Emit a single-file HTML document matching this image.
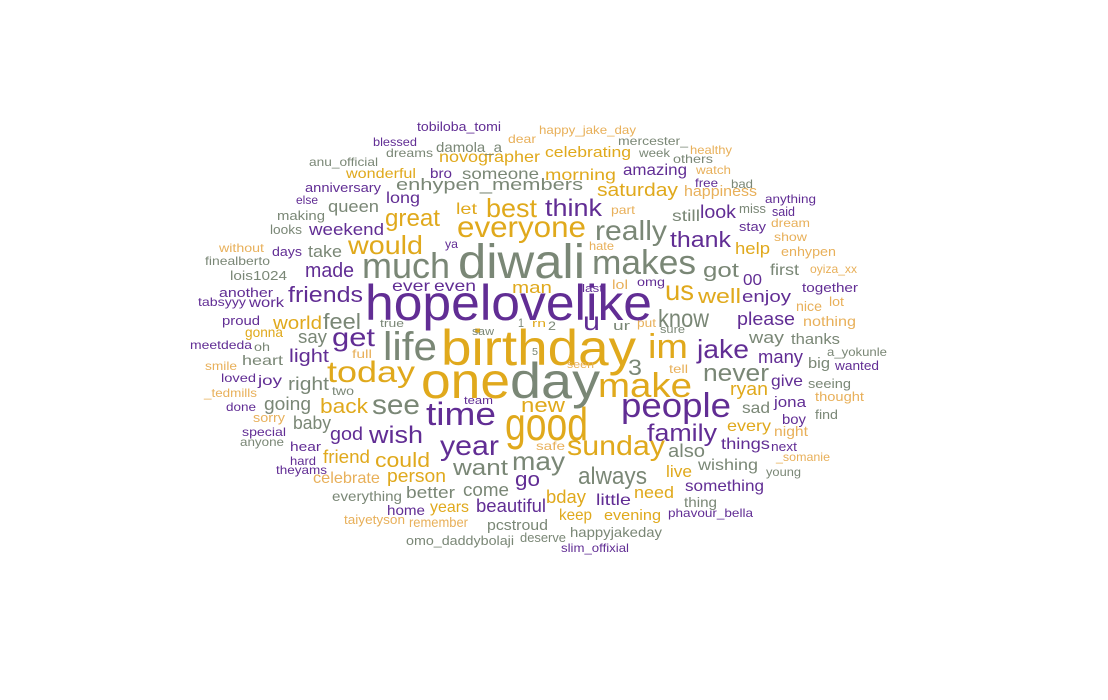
<!DOCTYPE html>
<html><head><meta charset="utf-8"><style>
html,body{margin:0;padding:0;background:#fff;width:1108px;height:700px;overflow:hidden}
svg text{font-family:"Liberation Sans","DejaVu Sans",sans-serif}
</style></head><body>
<svg id="cloud" width="1108" height="700" xmlns="http://www.w3.org/2000/svg"></svg>
<script>
const P="#612d94",G="#e0a91c",Y="#7a8776",L="#e8b05a";
const words=[
["hopelovelike",365,652,320,50,P],["birthday",441,636,365,50,G],["diwali",458,585,278,48,Y],
["good",505,588,440,46,G],["one",421,510,398,50,G],["day",510,600,398,50,Y],
["much",362,450,278,36,Y],["makes",592,696,274,34,Y],["life",383,437,360,40,Y],
["im",648,688,358,34,G],["make",598,692,397,34,G],["people",621,731,417,34,P],
["today",327,415,382,30,G],["time",426,496,425,32,P],["year",440,499,455,28,P],
["sunday",567,665,455,28,G],["everyone",457,586,237,30,G],["really",595,667,240,28,Y],
["best",486,537,217,26,G],["think",545,602,216,24,P],["know",658,709,327,25,Y],
["us",665,694,300,28,G],["u",583,600,330,26,P],["jake",697,749,358,26,P],
["3",628,642,375,22,Y],["never",703,769,381,24,Y],["family",647,717,441,24,P],
["may",512,565,470,26,Y],["new",521,565,412,20,G],["always",578,647,484,24,Y],
["see",372,420,414,28,Y],["wish",369,423,443,24,P],["get",332,375,346,26,P],
["would",348,423,254,26,G],["great",385,440,226,24,G],["made",305,354,277,20,P],
["friends",288,363,302,22,P],["feel",323,361,329,22,Y],["world",273,322,329,18,G],
["say",298,327,343,18,Y],["light",289,329,362,18,P],["right",288,329,390,18,Y],
["back",320,368,413,20,G],["going",264,311,410,18,Y],["baby",293,331,429,18,Y],
["god",330,363,440,18,P],["could",375,430,467,20,G],["friend",323,370,463,18,G],
["person",387,446,482,18,G],["celebrate",313,380,483,16,L],["want",453,508,475,22,Y],
["go",515,540,486,20,P],["come",463,509,496,18,Y],["better",406,455,498,17,Y],
["everything",332,402,501,14,Y],["years",430,469,512,16,G],["beautiful",476,546,512,18,P],
["home",387,425,515,14,P],["bday",546,586,503,18,G],["little",596,631,505,16,P],
["need",634,674,498,17,G],["keep",559,592,520,16,G],["evening",604,661,520,15,G],
["taiyetyson",344,405,524,13,L],["remember",409,468,527,14,L],["pcstroud",487,548,530,15,Y],
["happyjakeday",570,662,537,14,Y],["deserve",520,566,542,13,Y],["omo_daddybolaji",406,514,545,13,Y],
["slim_offixial",561,629,552,12,P],["phavour_bella",668,753,517,12,P],["thing",684,717,507,14,Y],
["something",685,764,491,16,P],["live",666,692,477,17,G],["wishing",698,758,470,16,Y],
["also",668,705,457,18,Y],["things",721,770,449,16,P],["next",771,797,451,13,P],
["_somanie",776,830,461,12,L],["young",766,801,476,12,Y],["every",727,771,431,16,G],
["night",774,808,436,14,L],["boy",782,806,424,14,P],["find",815,838,419,13,Y],
["sad",742,770,413,16,Y],["jona",774,806,407,15,P],["thought",815,864,401,13,L],
["ryan",730,768,395,18,G],["give",771,803,386,16,P],["seeing",808,851,388,13,Y],
["big",808,830,368,15,Y],["wanted",835,879,370,13,P],["a_yokunle",827,887,356,12,Y],
["many",758,803,363,18,P],["thanks",791,840,344,15,Y],["way",749,784,343,17,Y],
["please",737,795,325,18,P],["nothing",803,856,326,14,L],["nice",796,822,311,14,L],
["lot",829,844,306,13,L],["together",802,858,292,13,P],["enjoy",742,791,302,17,P],
["00",743,762,285,16,P],["first",770,799,275,16,Y],["oyiza_xx",810,857,273,12,L],
["enhypen",781,836,256,13,L],["help",735,770,254,17,G],["show",774,807,241,12,L],
["dream",771,810,227,12,L],["stay",739,766,231,13,P],["said",772,795,216,13,P],
["miss",739,766,213,13,Y],["anything",765,816,203,12,P],["look",700,736,218,18,P],
["still",672,700,221,16,Y],["thank",670,731,247,22,P],["got",703,739,277,20,Y],
["well",698,741,303,20,G],["happiness",684,757,196,15,L],["bad",731,753,188,12,Y],
["free",695,718,187,12,P],["watch",696,731,174,12,L],["others",673,713,163,12,Y],
["healthy",690,732,154,12,L],["week",639,670,157,12,Y],["mercester_",618,688,145,12,Y],
["happy_jake_day",539,636,134,12,L],["celebrating",545,631,157,15,G],["amazing",623,687,175,16,P],
["saturday",597,678,196,18,G],["morning",545,616,180,16,G],["part",611,635,214,12,L],
["hate",589,614,250,12,L],["enhypen_members",396,583,190,17,Y],["someone",462,539,179,16,Y],
["novographer",439,540,162,16,G],["damola_a",436,502,152,14,Y],["dear",508,536,143,12,L],
["bro",430,452,178,14,P],["tobiloba_tomi",417,501,131,13,P],["blessed",373,417,146,12,P],
["dreams",386,433,157,12,Y],["anu_official",309,378,166,12,Y],["wonderful",346,416,178,14,G],
["anniversary",305,381,192,13,P],["long",386,420,203,16,P],["queen",328,379,212,17,Y],
["else",296,318,204,12,P],["making",277,325,220,13,Y],["looks",270,302,234,13,Y],
["weekend",309,384,235,17,P],["let",456,477,214,16,G],["ya",445,458,248,12,P],
["without",219,264,252,12,L],["days",272,302,256,13,P],["take",308,342,257,17,Y],
["finealberto",205,270,265,12,Y],["lois1024",230,287,280,13,Y],["another",219,273,297,13,P],
["tabsyyy",198,246,306,12,P],["work",249,284,307,14,P],["proud",222,260,325,13,P],
["ever",392,430,291,16,P],["even",434,476,291,16,P],["gonna",245,283,337,14,G],
["meetdeda",190,252,349,12,P],["oh",254,270,351,12,Y],["heart",242,283,365,14,Y],
["smile",205,237,370,12,L],["loved",221,256,382,12,P],["joy",258,282,385,14,P],
["_tedmills",204,257,397,12,L],["done",226,256,411,12,P],["sorry",253,285,422,13,L],
["special",242,286,436,12,P],["anyone",240,284,446,12,Y],["hear",290,321,451,13,P],
["hard",290,316,465,12,P],["theyams",276,327,474,12,P],["two",332,354,395,12,Y],
["full",352,372,358,12,L],["true",380,404,327,11,Y],["saw",472,494,335,11,Y],
["team",464,493,404,11,P],["1",518,524,327,12,Y],["rn",532,546,327,11,G],
["2",548,556,330,12,Y],["5",532,538,355,10,Y],["seen",567,594,368,11,L],
["safe",536,565,450,12,L],["tell",669,688,373,12,L],["sure",660,685,333,11,Y],
["put",637,656,327,12,L],["ur",613,630,330,13,Y],["omg",637,665,286,12,P],
["lol",612,628,289,13,L],["last",582,603,292,11,P],["man",512,552,293,17,G]
];
const svg=document.getElementById('cloud');
words.forEach(w=>{
  const t=document.createElementNS('http://www.w3.org/2000/svg','text');
  
  
  t.setAttribute('x',w[1]);t.setAttribute('y',w[3]);
  t.setAttribute('font-size',w[4]);t.setAttribute('fill',w[5]);
  t.setAttribute('textLength',w[2]-w[1]);
  t.setAttribute('lengthAdjust','spacingAndGlyphs');
  t.textContent=w[0];
  svg.appendChild(t);
});
</script>
</body></html>
